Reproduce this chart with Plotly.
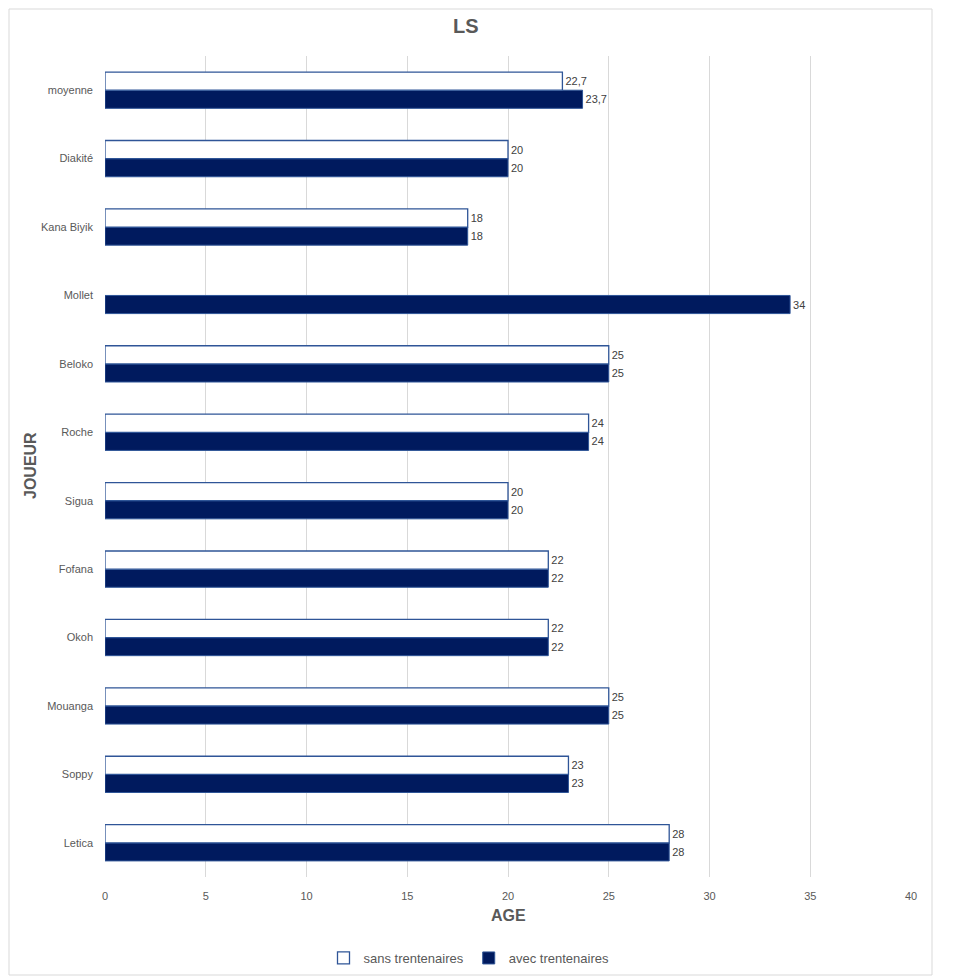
import plotly.graph_objects as go

categories = ["Letica", "Soppy", "Mouanga", "Okoh", "Fofana", "Sigua", "Roche",
              "Beloko", "Mollet", "Kana Biyik", "Diakité", "moyenne"]
sans_trentenaires = [28, 23, 25, 22, 22, 20, 24, 25, None, 18, 20, 22.7]
avec_trentenaires = [28, 23, 25, 22, 22, 20, 24, 25, 34, 18, 20, 23.7]
x_ticks = [0, 5, 10, 15, 20, 25, 30, 35, 40]

def fmt(v):
    if v is None:
        return ""
    return ("%g" % v).replace(".", ",")

NAVY = "#001A5E"
EDGE = "#2F5597"
FONT = "Liberation Sans Narrow, Liberation Sans, Arial"

# screen-pixel helpers (page has an 8px body offset)
PL, PR, PT, PB = 105, 911, 56, 877
def px(x):
    return (x - PL) / (PR - PL)
def py(y):
    return (PB - y) / (PB - PT)

fig = go.Figure()
fig.add_trace(go.Bar(
    y=categories, x=avec_trentenaires, orientation="h", name="avec trentenaires",
    marker=dict(color=NAVY, line=dict(color=EDGE, width=1)),
    text=[fmt(v) for v in avec_trentenaires], textposition="outside",
    textfont=dict(size=11, color="#404040", family=FONT), cliponaxis=False,
))
fig.add_trace(go.Bar(
    y=categories, x=sans_trentenaires, orientation="h", name="sans trentenaires",
    marker=dict(color="#FFFFFF", line=dict(color=EDGE, width=1.3)),
    text=[fmt(v) for v in sans_trentenaires], textposition="outside",
    textfont=dict(size=11, color="#404040", family=FONT), cliponaxis=False,
))

fig.update_layout(
    width=947, height=972,
    margin=dict(l=PL - 8, r=947 - (PR - 8), t=PT - 8, b=972 - (PB - 8), autoexpand=False),
    paper_bgcolor="white", plot_bgcolor="white",
    barmode="group", bargap=0.47, bargroupgap=0,
    font=dict(family=FONT, color="#595959", size=11),
    showlegend=True,
    legend=dict(orientation="h", x=px(469), xanchor="center", y=py(958), yanchor="middle",
                traceorder="reversed", font=dict(size=13, color="#595959"),
                itemwidth=30),
    xaxis=dict(range=[0, 40], tickvals=x_ticks, showgrid=True, gridcolor="#D9D9D9",
               gridwidth=1, zeroline=False, showline=False,
               ticks="outside", ticklen=9, tickcolor="rgba(0,0,0,0)",
               automargin=False,
               tickfont=dict(size=11, color="#595959"), fixedrange=True),
    yaxis=dict(categoryorder="array", categoryarray=categories, showgrid=False,
               zeroline=False, showline=False, ticks="", ticklabelstandoff=11,
               automargin=False,
               tickfont=dict(size=11, color="#595959")),
    annotations=[
        dict(text="<b>LS</b>", xref="paper", yref="paper", x=px(466), y=py(26),
             showarrow=False, font=dict(size=20, color="#595959"),
             xanchor="center", yanchor="middle"),
        dict(text="<b>AGE</b>", xref="paper", yref="paper", x=px(508), y=py(915),
             showarrow=False, font=dict(size=16, color="#595959"),
             xanchor="center", yanchor="middle"),
        dict(text="<b>JOUEUR</b>", xref="paper", yref="paper", x=px(30), y=py(466),
             showarrow=False, font=dict(size=16, color="#595959"),
             textangle=-90, xanchor="center", yanchor="middle"),
    ],
    shapes=[
        dict(type="rect", xref="paper", yref="paper",
             x0=px(9), x1=px(932), y0=py(975), y1=py(9),
             line=dict(color="#D9D9D9", width=1), fillcolor="rgba(0,0,0,0)", layer="below"),
    ],
)

fig.write_html("out.html")
